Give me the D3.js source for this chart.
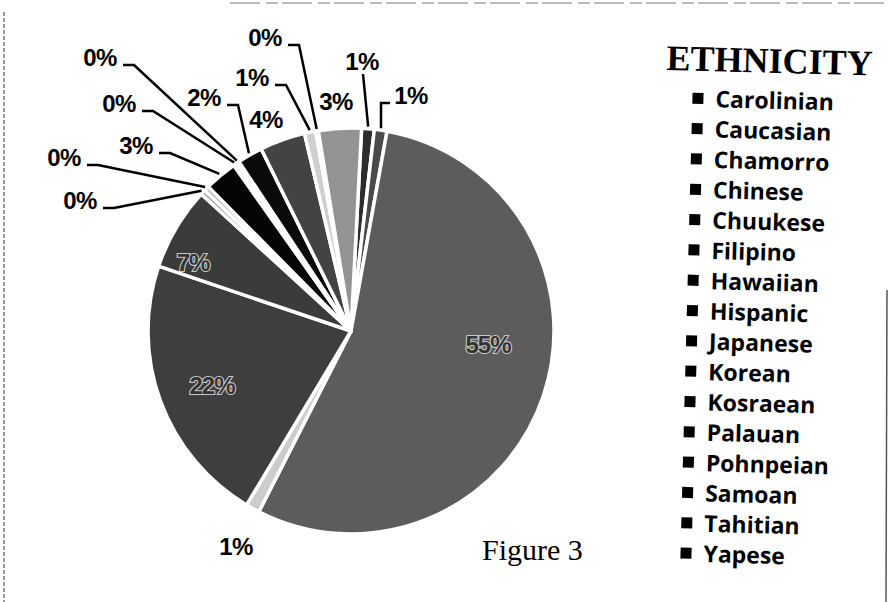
<!DOCTYPE html>
<html>
<head>
<meta charset="utf-8">
<script src="https://cdn.jsdelivr.net/npm/d3@7"></script>
<style>
  body { margin: 0; background: #fff; }
  svg { display: block; }
</style>
</head>
<body>
<svg id="chart" width="892" height="602"></svg>
<script>
/* ============================
   Data
   ============================ */
const categories = ["Carolinian", "Caucasian", "Chamorro", "Chinese", "Chuukese", "Filipino",
    "Hawaiian", "Hispanic", "Japanese", "Korean", "Kosraean", "Palauan",
    "Pohnpeian", "Samoan", "Tahitian", "Yapese"];
const values = [1.0, 1.0, 54.5, 1.1, 21.5, 6.6, 0.4, 0.4, 2.6, 0.3, 0.2, 2.0, 3.6, 0.9, 0.2, 3.4];

// grey shades of the scan, one per slice
const grays = ["#2c2c2c", "#4a4a4a", "#5c5c5c", "#cccccc", "#3e3e3e", "#3b3b3b",
    "#9a9a9a", "#b4b4b4", "#050505", "#c8c8c8", "#d8d8d8", "#0a0a0a",
    "#434343", "#cfcfcf", "#e0e0e0", "#939393"];

// where each percentage label sits (text centre) and how its leader leaves it
const labelSpots = {
    Carolinian: [362, 61, "down"],
    Caucasian: [411, 95, "left"],
    Chamorro: [488, 344, "inside"],
    Chinese: [236, 546, "none"],
    Chuukese: [212, 385, "inside"],
    Filipino: [193, 262, "inside"],
    Hawaiian: [80, 200, "right"],
    Hispanic: [64, 157, "right"],
    Japanese: [136, 145, "right"],
    Korean: [119, 103, "right"],
    Kosraean: [100, 57, "right"],
    Palauan: [204, 97, "right"],
    Pohnpeian: [266, 119, "none"],
    Samoan: [252, 77, "right"],
    Tahitian: [265, 37, "right"],
    Yapese: [336, 101, "none"]
};

const svg = d3.select("#chart");
const width = 892, height = 602;

svg.append("rect").attr("width", width).attr("height", height).attr("fill", "#fff");

// scan edges
svg.append("line").attr("x1", 4).attr("x2", 4).attr("y1", 12).attr("y2", height)
    .attr("stroke", "#777").attr("stroke-width", 1.5).attr("stroke-dasharray", "4,2");
svg.append("line").attr("x1", 887).attr("x2", 886).attr("y1", 290).attr("y2", height)
    .attr("stroke", "#555").attr("stroke-width", 1.5);
svg.append("line").attr("x1", 230).attr("x2", 890).attr("y1", 3).attr("y2", 3)
    .attr("stroke", "#bbb").attr("stroke-width", 2).attr("stroke-dasharray", "30,6,12,4");

/* ============================
   Pie
   ============================ */
const cx = 351, cy = 331, radius = 203;
const total = d3.sum(values);
const data = categories.map((c, i) => ({ name: c, value: values[i], fill: grays[i] }));

const startA = 3 * Math.PI / 180;
const pie = d3.pie().sort(null).value(d => d.value)
    .startAngle(startA).endAngle(startA + 2 * Math.PI);
const arcs = pie(data);
const arc = d3.arc().innerRadius(0).outerRadius(radius);
const edgeArc = d3.arc().innerRadius(radius + 2).outerRadius(radius + 2);

const g = svg.append("g").attr("transform", `translate(${cx},${cy})`);

g.selectAll("path")
    .data(arcs)
    .join("path")
    .attr("d", arc)
    .attr("fill", d => d.data.fill)
    .attr("stroke", "#fff")
    .attr("stroke-width", 3.5)
    .attr("stroke-linejoin", "round");

// leader lines, drawn in page coordinates
const pct = d => Math.round(d.value / total * 100) + "%";

arcs.forEach(d => {
    const [lx, ly, kind] = labelSpots[d.data.name];
    const [ex, ey] = edgeArc.centroid(d);
    const end = [cx + ex, cy + ey];
    let pts = null;
    if (kind === "right") {
        const s = [lx + 23, ly + 8];
        pts = [s, [s[0] + 11, s[1]], end];
    } else if (kind === "left") {
        const s = [lx - 21, ly + 8];
        pts = [s, [end[0], s[1]], end];
    } else if (kind === "down") {
        pts = [[lx + 1, ly + 13], end];
    }
    if (pts) {
        svg.append("path")
            .attr("d", d3.line()(pts))
            .attr("fill", "none")
            .attr("stroke", "#000")
            .attr("stroke-width", 2.5);
    }
});

// percentage labels
arcs.forEach(d => {
    const [lx, ly, kind] = labelSpots[d.data.name];
    const t = svg.append("text")
        .attr("x", lx)
        .attr("y", ly)
        .attr("text-anchor", "middle")
        .attr("dominant-baseline", "central")
        .attr("font-family", "Liberation Sans, Arial, sans-serif")
        .attr("font-weight", "bold")
        .attr("font-size", 24)
        .text(pct(d.data));
    if (kind === "inside") {
        t.attr("fill", "#333").attr("stroke", "#c8c8c8").attr("stroke-width", 2.2)
            .attr("paint-order", "stroke").attr("letter-spacing", -1);
    } else {
        t.attr("fill", "#000").attr("letter-spacing", -0.5);
    }
});

/* ============================
   Legend
   ============================ */
const legend = svg.append("g").attr("transform", "translate(668,0) rotate(1.5)");

legend.append("text")
    .attr("x", 0)
    .attr("y", 70)
    .attr("font-family", "Liberation Serif, Times New Roman, serif")
    .attr("font-weight", "bold")
    .attr("font-size", 36)
    .text("ETHNICITY");

const rowY = d3.scalePoint().domain(categories).range([97, 552]);

const items = legend.selectAll("g.item")
    .data(categories)
    .join("g")
    .attr("class", "item")
    .attr("transform", c => `translate(0,${rowY(c)})`);

items.append("rect")
    .attr("x", 27).attr("y", -5)
    .attr("width", 11).attr("height", 11)
    .attr("fill", "#000");

items.append("text")
    .attr("x", 50)
    .attr("y", 0)
    .attr("dominant-baseline", "central")
    .attr("font-family", "Open Sans, sans-serif")
    .attr("font-weight", 700)
    .attr("font-size", 23)
    .attr("fill", "#000")
    .text(c => c);

// caption
svg.append("text")
    .attr("x", 482)
    .attr("y", 560)
    .attr("font-family", "Liberation Serif, Times New Roman, serif")
    .attr("font-size", 30)
    .text("Figure 3");
</script>
</body>
</html>
